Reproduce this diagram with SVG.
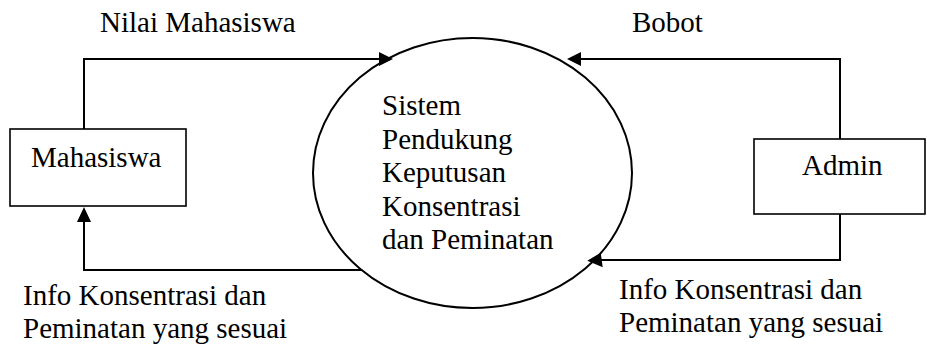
<svg xmlns="http://www.w3.org/2000/svg" width="927" height="349" viewBox="0 0 927 349">
<style>
.box { fill: #fff; stroke: #000; stroke-width: 1.6; }
.line { fill: none; stroke: #000; stroke-width: 2; }
.head { fill: #000; stroke: none; }
</style>
<rect width="927" height="349" fill="#fff"/>
<g id="connectors">
  <polyline class="line" points="84,129 84,59 382,59"/>
  <polygon class="head" points="393,59 379,52 379,66"/>
  <polyline class="line" points="840,139 840,59 578,59"/>
  <polygon class="head" points="567,59 581,52 581,66"/>
  <polyline class="line" points="362,270 84,270 84,218"/>
  <polygon class="head" points="84,207 77,222 91,222"/>
  <polyline class="line" points="840,214 840,260 598,260"/>
  <polygon class="head" points="587.3,260.7 600.7,252.7 602.7,267.3"/>
</g>
<g font-family="'Liberation Serif', 'Times New Roman', 'DejaVu Serif', serif" font-size="29" fill="#000">
<g id="mahasiswa">
  <rect class="box" x="10" y="129" width="176" height="77"/>
  <text x="31" y="167">Mahasiswa</text>
</g>
<g id="admin">
  <rect class="box" x="754" y="139" width="171" height="75"/>
  <text x="802" y="175">Admin</text>
</g>
<g id="sistem">
  <ellipse cx="472.5" cy="173" rx="159.5" ry="135" fill="none" stroke="#000" stroke-width="2"/>
  <text x="382" y="115">Sistem</text>
  <text x="382" y="148.5">Pendukung</text>
  <text x="382" y="182">Keputusan</text>
  <text x="382" y="215.5">Konsentrasi</text>
  <text x="382" y="249">dan Peminatan</text>
</g>
<g id="labels">
  <text x="100" y="32">Nilai Mahasiswa</text>
  <text x="632" y="32">Bobot</text>
  <text x="23" y="305">Info Konsentrasi dan</text>
  <text x="23" y="338">Peminatan yang sesuai</text>
  <text x="619" y="299">Info Konsentrasi dan</text>
  <text x="619" y="332">Peminatan yang sesuai</text>
</g>
</g>
</svg>
